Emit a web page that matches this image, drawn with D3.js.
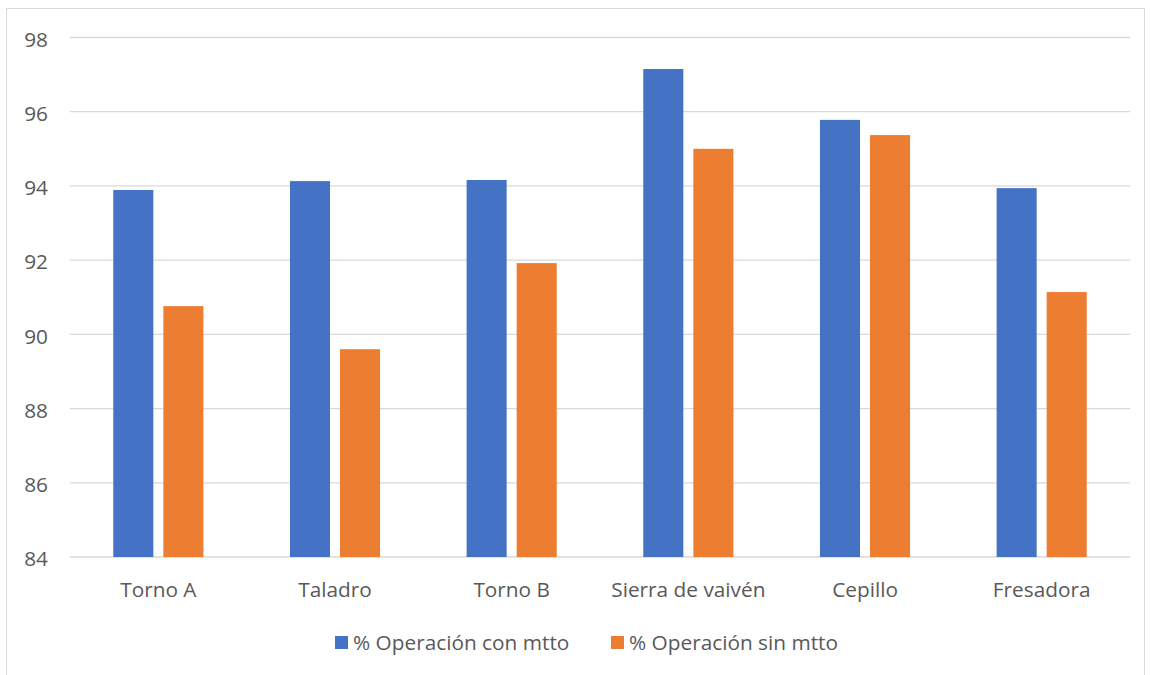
<!DOCTYPE html>
<html>
<head>
<meta charset="utf-8">
<script src="https://cdn.jsdelivr.net/npm/d3@7"></script>
<style>
  body { margin: 0; background: #fff; }
  text { font-family: "Open Sans", sans-serif; fill: #595959; }
</style>
</head>
<body>
<div id="chart"></div>
<script>
// data
var categories = ["Torno A", "Taladro", "Torno B", "Sierra de vaivén", "Cepillo", "Fresadora"];
var conMtto = [93.89, 94.13, 94.16, 97.15, 95.78, 93.94];
var sinMtto = [90.76, 89.60, 91.92, 95.00, 95.37, 91.14];
var seriesNames = ["% Operación con mtto", "% Operación sin mtto"];
var yTicks = [84, 86, 88, 90, 92, 94, 96, 98];
var colors = ["#4472C4", "#ED7D31"];

var width = 1150, height = 675;
var margin = {top: 37.5, left: 70, right: 20, bottom: 118};
var fontSize = '20.8px';

var svg = d3.select('#chart').append('svg')
    .attr('width', width)
    .attr('height', height);

// outer frame
svg.append('rect')
    .attr('x', 6.5).attr('y', 8.5)
    .attr('width', 1138).attr('height', 690)
    .attr('fill', 'none')
    .attr('stroke', '#d9d9d9');

var x = d3.scaleBand()
    .domain(categories)
    .range([margin.left, width - margin.right])
    .paddingInner(0.49)
    .paddingOuter(0.245);

var x1 = d3.scaleBand()
    .domain([0, 1])
    .range([0, x.bandwidth()])
    .paddingInner(0.2);

var y = d3.scaleLinear()
    .domain([84, 98])
    .range([557, margin.top]);

// gridlines
svg.append('g')
    .selectAll('line').data(yTicks)
    .enter().append('line')
    .attr('x1', margin.left)
    .attr('x2', width - margin.right)
    .attr('y1', function (d) { return y(d); })
    .attr('y2', function (d) { return y(d); })
    .attr('stroke', '#d9d9d9')
    .attr('stroke-width', 1.3);

// y axis labels
var yAxis = d3.axisLeft(y).tickValues(yTicks).tickSize(0).tickPadding(22);
var gy = svg.append('g')
    .attr('transform', 'translate(' + margin.left + ',0)')
    .call(yAxis);
gy.select('.domain').remove();
gy.selectAll('text').style('font-size', fontSize).attr('dy', '0.42em').attr('fill', '#595959');

// x axis labels
var xAxis = d3.axisBottom(x).tickSize(0).tickPadding(25);
var gx = svg.append('g')
    .attr('transform', 'translate(0,' + y(84) + ')')
    .call(xAxis);
gx.select('.domain').remove();
gx.selectAll('text').style('font-size', fontSize).attr('fill', '#595959');

// bars
var series = [conMtto, sinMtto];
series.forEach(function (vals, s) {
    svg.append('g')
        .selectAll('rect').data(vals)
        .enter().append('rect')
        .attr('x', function (d, i) { return x(categories[i]) + x1(s); })
        .attr('y', function (d) { return y(d); })
        .attr('width', x1.bandwidth())
        .attr('height', function (d) { return y(84) - y(d); })
        .attr('fill', colors[s]);
});

// legend
var legendX = [335, 611];
var legend = svg.append('g');
seriesNames.forEach(function (name, s) {
    legend.append('rect')
        .attr('x', legendX[s]).attr('y', 636)
        .attr('width', 13).attr('height', 13)
        .attr('fill', colors[s]);
    legend.append('text')
        .attr('x', legendX[s] + 18).attr('y', 650)
        .style('font-size', fontSize)
        .text(name);
});
</script>
</body>
</html>
